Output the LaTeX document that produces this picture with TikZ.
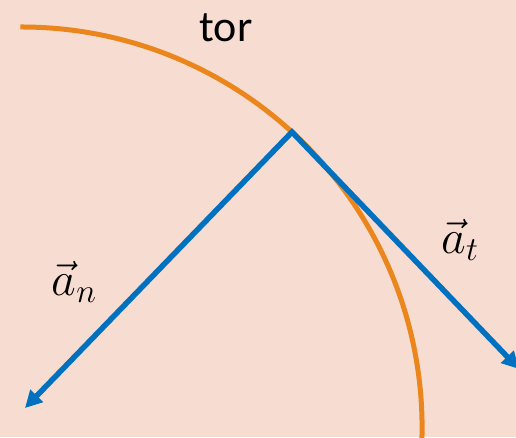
\RequirePackage{fix-cm}
\documentclass[tikz,border=0pt]{standalone}
\usepackage{fontspec}
\setmainfont{Carlito}
\usetikzlibrary{arrows.meta}
\definecolor{bg}{RGB}{247,221,209}
\definecolor{arcorange}{RGB}{234,134,28}
\definecolor{vecblue}{RGB}{0,112,192}
\tikzset{
  arcline/.style={draw=arcorange,line width=5pt},
  vecline/.style={draw=vecblue,line width=5.5pt,line join=miter,
    {Triangle[length=17pt,width=17pt]}-{Triangle[length=17pt,width=17pt]}},
  lbl/.style={inner sep=0pt},
  mathlbl/.style={inner sep=0pt,font=\fontsize{48}{54}\selectfont}
}
\begin{document}
\begin{tikzpicture}[x=1pt,y=1pt]
\useasboundingbox (0,0) rectangle (516,437);
\clip (0,0) rectangle (516,437);
\fill[bg] (0,0) rectangle (516,437);
\coordinate (center) at (21.7,9.6);
\coordinate (arcstart) at (20.3,410);
\draw[arcline] (arcstart) arc[start angle=90.2,end angle=-1.6,radius=400.4];
\coordinate (P) at (292,305);
\coordinate (an) at (25,29);
\coordinate (at) at (519,68);
\draw[vecline] (an) -- (P) -- (at);
\node[lbl,font=\fontsize{44}{50}\selectfont] (tor) at (226,409) {tor};
\node[mathlbl] (lan) at (74,155) {$\vec{a}_n$};
\node[mathlbl] (lat) at (460,197) {$\vec{a}_t$};
\end{tikzpicture}
\end{document}
